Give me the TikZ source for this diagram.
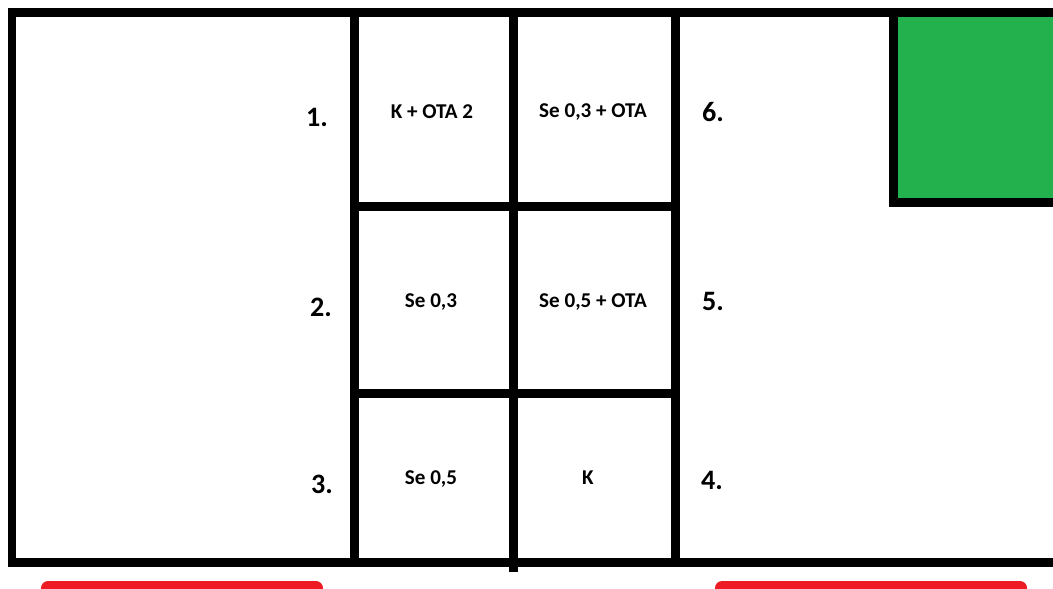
\documentclass[tikz,border=0pt]{standalone}
\usepackage{fontspec}
\setmainfont{Carlito}
\usetikzlibrary{positioning}
\definecolor{paintgreen}{RGB}{34,177,76}
\definecolor{paintred}{RGB}{237,28,36}

\begin{document}
\begin{tikzpicture}[
x=0.02cm, y=-0.02cm,
wall/.style={line width=0.18cm, black},
cell/.style={font=\bfseries\fontsize{12}{14}\selectfont},
num/.style={font=\bfseries\fontsize{16}{18}\selectfont}
]
\clip (0,0) rectangle (1053,588);

% outer frame
\draw[wall] (1070,13) -- (12,13) -- (12,562) -- (1070,562);

% green block
\draw[wall, fill=paintgreen] (1070,13) -- (893,13) -- (893,202) -- (1070,202);

% grid of cells
\draw[wall] (354,13) -- (354,562);
\draw[wall] (513,13) -- (513,572);
\draw[wall] (675,13) -- (675,562);
\draw[wall] (354,206) -- (675,206);
\draw[wall] (354,393) -- (675,393);

% red bars
\fill[paintred, rounded corners=4pt] (41,581) rectangle (323,610);
\fill[paintred, rounded corners=4pt] (715,581) rectangle (1027,610);

% cell labels
\node[cell] (c1) at (432,112) {K + OTA 2};
\node[cell] (c6) at (593,112) {Se 0,3 + OTA};
\node[cell] (c2) at (431,302) {Se 0,3};
\node[cell] (c5) at (593,302) {Se 0,5 + OTA};
\node[cell] (c3) at (431,479) {Se 0,5};
\node[cell] (c4) at (588,478) {K};

% numbers
\node[num] (n1) at (317,117) {1.};
\node[num] (n2) at (321,307) {2.};
\node[num] (n3) at (322,484) {3.};
\node[num] (n6) at (713,112) {6.};
\node[num] (n5) at (713,301) {5.};
\node[num] (n4) at (712,480) {4.};

\end{tikzpicture}
\end{document}
